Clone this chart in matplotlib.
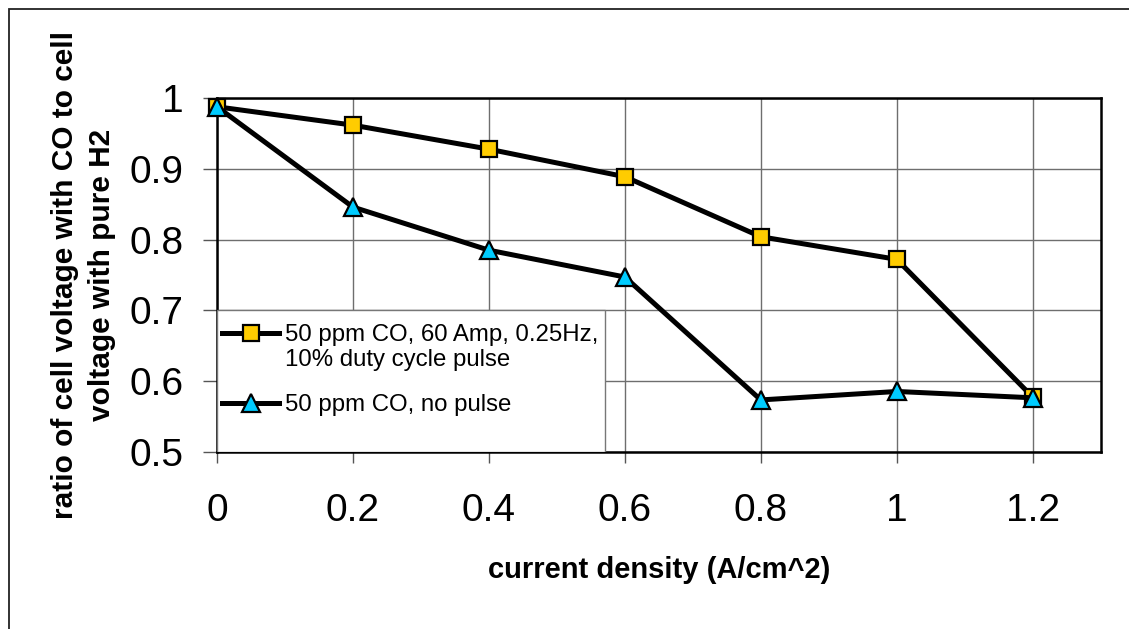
import matplotlib
matplotlib.use("Agg")
import matplotlib.pyplot as plt
from matplotlib.patches import Rectangle
from matplotlib.ticker import FuncFormatter, MultipleLocator
from matplotlib.legend_handler import HandlerLine2D

plt.rcParams['font.family'] = ['Liberation Sans', 'DejaVu Sans']

current_density = [0, 0.2, 0.4, 0.6, 0.8, 1.0, 1.2]
ratio_pulse = [0.988, 0.962, 0.928, 0.889, 0.804, 0.772, 0.577]
ratio_no_pulse = [0.988, 0.846, 0.785, 0.747, 0.573, 0.585, 0.576]
label_pulse = "50 ppm CO, 60 Amp, 0.25Hz,\n10% duty cycle pulse"
label_no_pulse = "50 ppm CO, no pulse"
x_label = "current density (A/cm^2)"
y_label = "ratio of cell voltage with CO to cell\nvoltage with pure H2"


class ShiftedHandler(HandlerLine2D):
    """Line handle aligned with the first line of a two-line label."""
    def __init__(self, dy, **kw):
        super().__init__(**kw)
        self.dy = dy

    def create_artists(self, legend, orig_handle, xdescent, ydescent, width,
                       height, fontsize, trans):
        arts = super().create_artists(legend, orig_handle, xdescent, ydescent,
                                      width, height, fontsize, trans)
        for a in arts:
            a.set_ydata([y + self.dy for y in a.get_ydata()])
        return arts


W, H = 1129, 629
fig = plt.figure(figsize=(W / 100, H / 100), dpi=100)
ax = fig.add_axes([217 / W, 1 - 451.5 / H, (1100.7 - 217) / W, (451.5 - 98.3) / H])

# outer chart border
fig.patches.append(Rectangle((8.5 / W, -0.1), 1.2, 1.1 - 8.5 / H, transform=fig.transFigure,
                             fill=False, edgecolor='#222222', linewidth=1.3))

ax.set_xlim(0, 1.3)
ax.set_ylim(0.5, 1.0)
ax.xaxis.set_major_locator(MultipleLocator(0.2))
ax.yaxis.set_major_locator(MultipleLocator(0.1))
fmt = FuncFormatter(lambda v, p: f"{v:g}")
ax.xaxis.set_major_formatter(fmt)
ax.yaxis.set_major_formatter(fmt)
ax.grid(True, color='#6e6e6e', linewidth=1.0, zorder=0)
ax.set_axisbelow(True)
for s in ax.spines.values():
    s.set_linewidth(1.8)
    s.set_color('black')
ax.tick_params(axis='y', direction='out', length=10, width=1, color='#555555',
               labelsize=28, pad=14)
ax.tick_params(axis='x', direction='out', length=8, width=1, color='#555555',
               labelsize=28, pad=22)

line_pulse, = ax.plot(current_density, ratio_pulse, color='black', linewidth=3.6, marker='s',
                      markersize=12, markerfacecolor='#FFCC00', markeredgecolor='black',
                      markeredgewidth=1.6, label=label_pulse, zorder=5, clip_on=False)
line_nopulse, = ax.plot(current_density, ratio_no_pulse, color='black', linewidth=3.6, marker='^',
                        markersize=13, markerfacecolor='#00CCFF', markeredgecolor='black',
                        markeredgewidth=1.6, label=label_no_pulse, zorder=6, clip_on=False)

# legend box
ax.add_patch(Rectangle((0, 0.5), 0.5706, 0.2, facecolor='white', edgecolor='#777777',
                       linewidth=1.0, zorder=3))
leg = ax.legend(loc='upper left', bbox_to_anchor=(0.0, 0.688), bbox_transform=ax.transData,
                frameon=False, fontsize=17.3, handlelength=2.4, handletextpad=0.22,
                borderaxespad=0.0, borderpad=0.2, labelspacing=0.96,
                handler_map={line_pulse: ShiftedHandler(10.5)})
leg.set_zorder(7)

ax.set_xlabel(x_label, fontsize=21, fontweight='bold', labelpad=19)
ax.set_ylabel(y_label, fontsize=21.5, fontweight='bold', labelpad=10, linespacing=1.38)

fig.savefig("out.png", dpi=100)
